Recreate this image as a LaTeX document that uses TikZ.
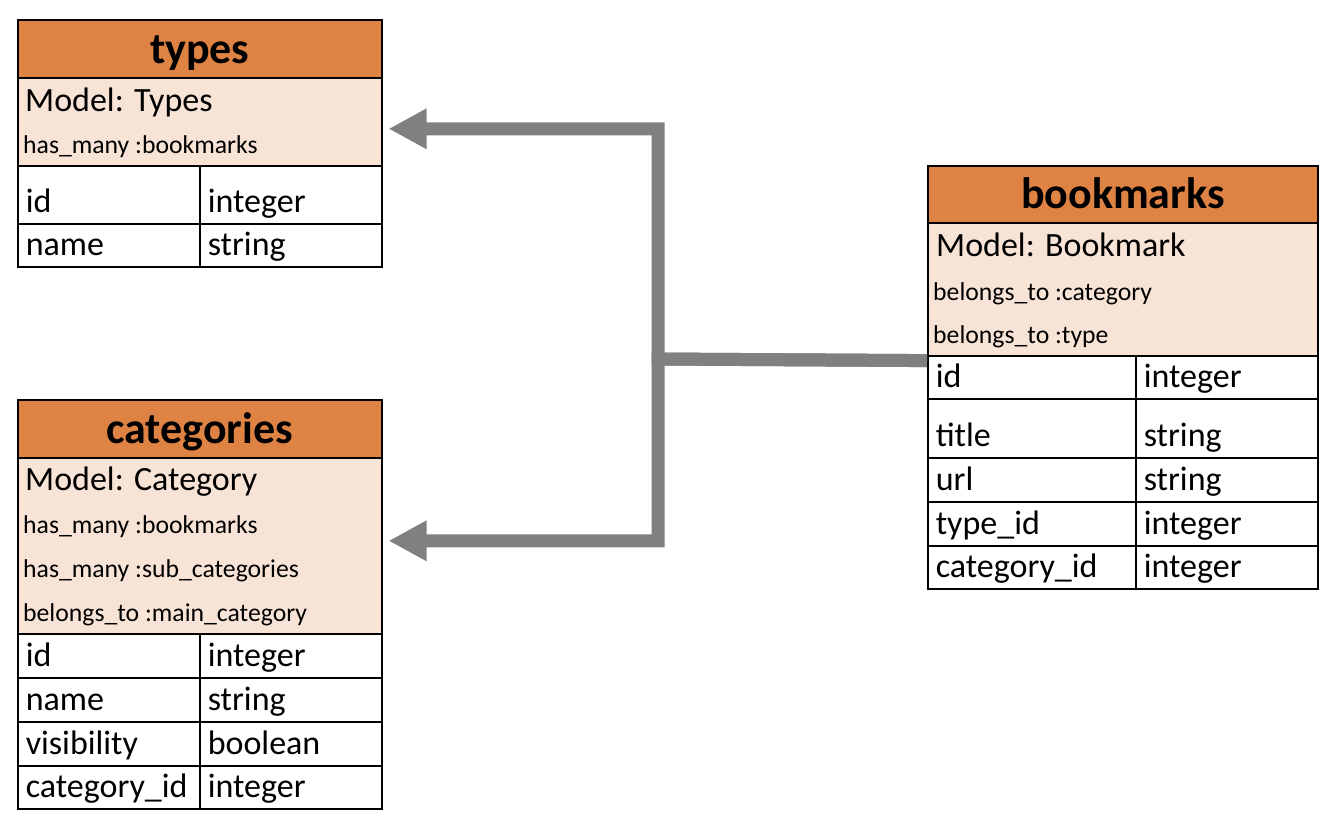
\documentclass[tikz,border=0pt]{standalone}
\usepackage{fontspec}
\setmainfont{Carlito}
\usepackage{tikz}
\usetikzlibrary{arrows.meta}

\definecolor{hdorange}{RGB}{223,131,68}
\definecolor{modelpale}{RGB}{248,228,214}
\definecolor{linkgray}{RGB}{128,128,128}

\tikzset{
    tblhead/.style={draw, line width=1.6pt, fill=hdorange, text=black, anchor=north west, inner sep=0pt, minimum width=#1, text height=44pt, text depth=14pt, font=\fontsize{44}{48}\selectfont\bfseries},
    tblbody/.style={draw, line width=1.6pt, fill=modelpale, anchor=north west, inner sep=0pt, minimum width=#1},
    tblcell/.style={draw, line width=1.6pt, anchor=north west, inner xsep=8pt, inner ysep=0pt, text width=#1, align=left, text depth=11.5pt, font=\fontsize{34}{38}\selectfont},
    modelname/.style={anchor=base west, inner sep=0pt, font=\fontsize{34}{38}\selectfont},
    assoc/.style={anchor=base west, inner sep=0pt, font=\fontsize{25.7}{30}\selectfont},
    relink/.style={draw=linkgray, line width=13pt, -{Triangle[length=38pt,width=38pt]}}
}

\begin{document}
\begin{tikzpicture}[x=1pt, y=1pt]
    \useasboundingbox (0,0) rectangle (1342,-822);

    \node[tblhead=364pt] (types-head) at (17,-19) {types};
    \node[tblbody=364pt, minimum height=88pt] (types-body) at (17,-77) {};
    \node[modelname] (types-model) at (25,-111) {Model: Types};
    \node[assoc] (types-has) at (23,-153) {has\_many :bookmarks};
    \node[tblcell=166pt, text height=46.5pt] (types-id) at (17,-165) {id};
    \node[tblcell=166pt, text height=46.5pt] (types-id-t) at (199,-165) {integer};
    \node[tblcell=166pt, text height=31.5pt] (types-name) at (17,-223) {name};
    \node[tblcell=166pt, text height=31.5pt] (types-name-t) at (199,-223) {string};

    \node[tblhead=364pt] (cat-head) at (17,-399) {categories};
    \node[tblbody=364pt, minimum height=176pt] (cat-body) at (17,-457) {};
    \node[modelname] (cat-model) at (25,-490) {Model: Category};
    \node[assoc] (cat-has1) at (23,-533) {has\_many :bookmarks};
    \node[assoc] (cat-has2) at (23,-577) {has\_many :sub\_categories};
    \node[assoc] (cat-belongs) at (23,-621) {belongs\_to :main\_category};
    \node[tblcell=166pt, text height=32.5pt] (cat-id) at (17,-633) {id};
    \node[tblcell=166pt, text height=32.5pt] (cat-id-t) at (199,-633) {integer};
    \node[tblcell=166pt, text height=32.5pt] (cat-name) at (17,-677) {name};
    \node[tblcell=166pt, text height=32.5pt] (cat-name-t) at (199,-677) {string};
    \node[tblcell=166pt, text height=32.5pt] (cat-vis) at (17,-721) {visibility};
    \node[tblcell=166pt, text height=32.5pt] (cat-vis-t) at (199,-721) {boolean};
    \node[tblcell=166pt, text height=31.5pt] (cat-cid) at (17,-765) {category\_id};
    \node[tblcell=166pt, text height=31.5pt] (cat-cid-t) at (199,-765) {integer};

    \node[tblhead=390pt, text height=43pt] (bm-head) at (927,-165) {bookmarks};
    \node[tblbody=390pt, minimum height=133pt] (bm-body) at (927,-222) {};
    \node[modelname] (bm-model) at (936,-256) {Model: Bookmark};
    \node[assoc] (bm-belongs1) at (933,-300) {belongs\_to :category};
    \node[assoc] (bm-belongs2) at (933,-343) {belongs\_to :type};
    \node[tblcell=192pt, text height=31.5pt] (bm-id) at (927,-355) {id};
    \node[tblcell=166pt, text height=31.5pt] (bm-id-t) at (1135,-355) {integer};
    \node[tblcell=192pt, text height=47.5pt] (bm-title) at (927,-398) {title};
    \node[tblcell=166pt, text height=47.5pt] (bm-title-t) at (1135,-398) {string};
    \node[tblcell=192pt, text height=32.5pt] (bm-url) at (927,-457) {url};
    \node[tblcell=166pt, text height=32.5pt] (bm-url-t) at (1135,-457) {string};
    \node[tblcell=192pt, text height=32.5pt] (bm-tid) at (927,-501) {type\_id};
    \node[tblcell=166pt, text height=32.5pt] (bm-tid-t) at (1135,-501) {integer};
    \node[tblcell=192pt, text height=31.5pt] (bm-cid) at (927,-545) {category\_id};
    \node[tblcell=166pt, text height=31.5pt] (bm-cid-t) at (1135,-545) {integer};

    \coordinate (trunk) at (658,-359);
    \draw[relink] ([yshift=-4pt]bm-body.south west) -- (trunk) |- ([xshift=6pt,yshift=-7pt]types-body.east);
    \draw[relink] ([yshift=-4pt]bm-body.south west) -- (trunk) |- ([xshift=6pt,yshift=5pt]cat-body.east);
\end{tikzpicture}
\end{document}
